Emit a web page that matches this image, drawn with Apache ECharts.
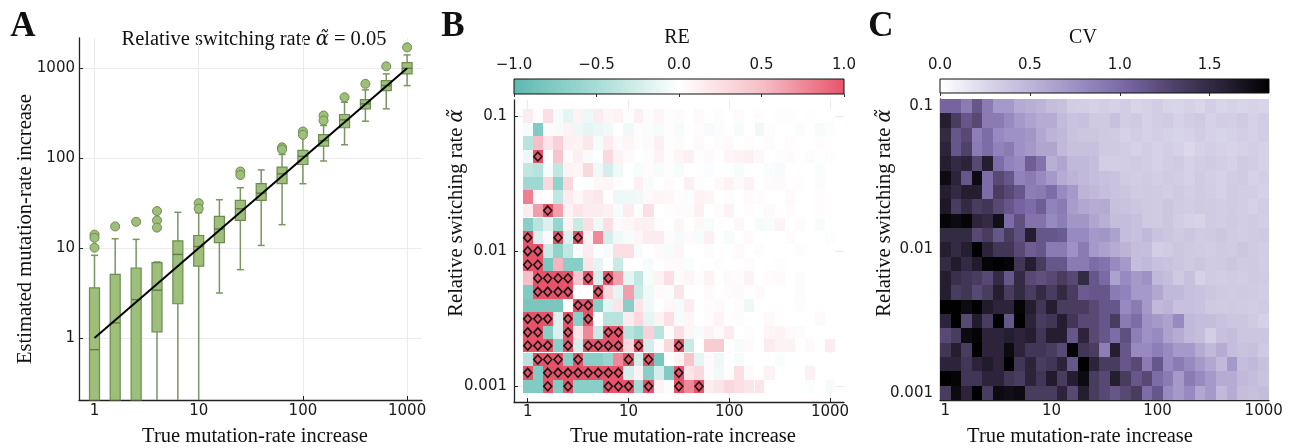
<!DOCTYPE html>
<html>
<head>
<meta charset="utf-8">
<script src="https://cdn.jsdelivr.net/npm/echarts@6.0.0/dist/echarts.min.js"></script>
<style>
html, body { margin: 0; padding: 0; background: #fff; }
#main { width: 1298px; height: 448px; }
</style>
</head>
<body>
<div id="main"></div>
<script>
// ---- panel A: estimated vs true mutation-rate increase (alpha = 0.05) ----
const trueRates   = [1, 1.58, 2.51, 3.98, 6.31, 10, 15.8, 25.1, 39.8, 63.1, 100, 158, 251, 398, 631, 1000];
const whiskerLow  = [0.05, 0.05, 0.05, 0.05, 0.05, 0.05, 3.16, 5.75, 10.7, 18.2, 52, 93, 141, 258, 354, 642];
const boxQ1       = [0.05, 0.05, 0.05, 1.17, 2.4, 6.3, 11.5, 20.3, 33.9, 52, 85, 136, 218, 354, 565, 867];
const boxMedian   = [0.74, 1.47, 2.67, 3.4, 8.5, 10.4, 16.3, 27.4, 40.8, 67, 105, 157, 267, 402, 642, 1000];
const boxQ3       = [3.6, 5.1, 6.0, 6.9, 12.0, 13.8, 22.5, 33.9, 52, 79.4, 122, 183, 306, 449, 730, 1157];
const whiskerHigh = [8.3, 12.7, 12.5, 7.0, 25, 24.7, 34.5, 46.9, 74, 110, 171, 231, 419, 575, 867, 1410];
const outliers = [
  [1, 14.1], [1, 13.0], [1, 10.1], [1.58, 17.4], [2.51, 19.6],
  [3.98, 25.8], [3.98, 20.3], [3.98, 16.9], [10, 31.6], [10, 27.4],
  [25.1, 71], [25.1, 65], [63.1, 132], [63.1, 125], [100, 198], [100, 182],
  [158, 298], [158, 262], [251, 476], [398, 671], [631, 1052], [1000, 1710]
];

// ---- panels B and C: grid of true rate (columns) x switching rate (rows, top to bottom) ----
const rateGrid = [1, 1.26, 1.58, 2, 2.51, 3.16, 3.98, 5.01, 6.31, 7.94,
  10, 12.6, 15.8, 20, 25.1, 31.6, 39.8, 50.1, 63.1, 79.4,
  100, 126, 158, 200, 251, 316, 398, 501, 631, 794, 1000];
const alphaGrid = [0.1, 0.0794, 0.0631, 0.0501, 0.0398, 0.0316, 0.0251, 0.02, 0.0158, 0.0126,
  0.01, 0.00794, 0.00631, 0.00501, 0.00398, 0.00316, 0.00251, 0.002, 0.00158, 0.00126, 0.001];

// relative error, clipped at +-1 (cells at +1 are flagged with a diamond)
const reValues = [
  [0.15,0.02,0.25,-0.05,-0.15,0.1,-0.1,0.15,0.08,0.1,0.02,0.12,0.03,0.08,0.02,0.03,0,0.05,0,0.02,0,0.03,0,0.02,0,-0.02,0.02,0,0.01,0,0],
  [-0.05,-0.75,0.05,-0.05,0.1,-0.1,-0.15,-0.12,-0.08,0,-0.08,0.02,-0.03,-0.05,0.02,-0.05,0,0.02,-0.05,-0.03,0,-0.05,0,-0.08,-0.02,0,0,-0.03,0,-0.05,-0.02],
  [-0.4,0.5,0.2,0.35,0.12,0.1,0.18,-0.05,0.15,0.05,0.08,0.02,0.05,0.12,0.02,0.03,0,0.05,0,0.02,0.04,0,0.02,0,0.03,0,0.02,0,0,0.02,0],
  [-0.1,1,0,0.45,0.05,0.12,-0.05,0,0.3,0.1,0.05,0,0.03,0.1,0.02,0.08,0.12,0.02,0.05,0,0.08,0.1,0.12,0.06,0,0.02,0.03,0,0.03,0,0.02],
  [-0.35,-0.4,-0.05,-0.35,0.1,0.08,0.3,-0.08,-0.25,-0.08,0,-0.05,0.03,-0.05,0.02,-0.05,0,0,-0.03,0,0,-0.05,0,0,-0.03,-0.05,0,0,0,-0.03,0],
  [-0.55,-0.55,0.3,-0.65,0.3,0,0,0.06,0.08,0.02,0,0.12,-0.04,0,0.03,0,0.12,0.02,0,0.05,0.1,0.05,0.1,0,0.03,0.05,0,0.02,0,0.03,0],
  [0.8,0.05,0,-0.35,0.15,0.06,0.15,0.18,0,-0.1,-0.1,-0.08,0.05,0.08,0.06,0.02,-0.03,0.1,0.08,0,0.02,0,0.05,0.03,0,0,0.05,0,0,0.02,0],
  [0.15,0.65,1,0.65,0.1,0.2,0.15,0.15,0.12,-0.05,0.15,0,0.25,0,0.02,0.03,0.03,0.12,0,0.03,0.1,0,0.02,0,0.05,0,0.03,0,0,0.02,0],
  [-0.7,-0.4,-0.2,-0.6,0.1,-0.3,0.25,-0.08,0.25,0.05,0.08,0.12,0.12,0.03,0,0.06,0,0.06,-0.05,0,0,0.06,0,-0.05,-0.04,0.1,0,0.03,0,-0.04,0],
  [1,-0.2,0.05,1,-0.2,1,0.1,0.75,-0.25,-0.08,-0.05,0.08,0.15,0.15,0.03,-0.06,0.05,-0.05,0.12,0,-0.05,0,0.05,0,0,0,0.03,0,0,0,-0.02],
  [1,1,-0.3,-0.65,-0.35,0.05,0.15,0,-0.05,0.25,0.25,-0.05,0,0.05,-0.05,0.08,0,0,0.03,0,0,0.05,0,0.02,0,0,0,0.02,0,0,0],
  [1,1,-0.8,0.55,-0.7,-0.7,0.2,-0.15,0,-0.3,0,0,-0.05,0,0.05,0.05,-0.03,0,0,0.02,0,0,0.03,0,0,-0.02,0,0,0,0,0],
  [0.5,1,1,1,1,0.45,1,-0.25,1,0.65,-0.15,-0.35,-0.05,0.1,0.25,0.03,0.08,0.02,0.1,0,0.05,0.03,0.1,0,0.03,0.05,0,0.03,0,0,0],
  [-0.75,1,1,1,1,0,0,1,0.3,-0.15,0.65,-0.3,-0.08,0.05,-0.03,0.2,0,0,0.05,0,0.03,0.05,0,0.05,0,0,0,0.03,0,0,0],
  [-0.8,-0.8,-0.8,-0.8,0,1,1,-0.7,-0.15,0.2,-0.7,0.2,-0.08,0,0.06,-0.05,0.15,0,0.03,0.05,0,0.03,-0.1,0,0,0,0,0.02,0,0,0],
  [1,1,1,-0.2,1,-0.7,1,0,-0.4,-0.4,0.15,0.3,-0.15,0.1,0.25,-0.05,0.08,0,0.03,0.1,0.02,0.03,0,0,0.05,0,0,0,0,0.05,0],
  [1,1,-0.7,-0.2,1,0.2,0.75,-0.3,1,1,-0.4,-0.5,0.35,-0.4,0.03,0.25,0.08,-0.05,0.1,0.05,0.15,0,0.02,0,0.08,0.1,0.05,0.03,0,0,0],
  [1,1,1,-0.7,1,-0.25,1,1,1,1,0.3,1,-0.25,0.05,0.3,1,-0.3,0,0.4,0.4,0,-0.05,0.05,0,0.15,0.1,0.1,0,0.05,0,0.15],
  [-0.4,1,1,1,-0.7,1,-0.7,-0.7,-0.6,0.75,1,-0.25,1,-0.8,0,0.1,0.45,-0.15,0.05,-0.1,0,-0.05,0,0,0,-0.03,0,0,0,0,0],
  [1,-0.75,1,1,1,1,1,1,1,1,-0.25,0.1,-0.7,-0.25,-0.75,1,0.2,0.3,0.05,-0.08,0.02,0.25,0.05,0,0.1,0,0,0,0.12,0,0],
  [-0.75,-0.75,1,-0.75,1,-0.7,-0.7,-0.7,1,1,1,-0.5,1,0.1,-0.03,1,0.75,1,0.15,0.2,0.3,0.25,0.2,0.2,0,0,0,0,-0.03,0,-0.05]
];

// coefficient of variation
const cvValues = [
  [1.05,1.05,0.9,1.15,0.9,0.7,0.7,0.58,0.55,0.52,0.45,0.42,0.33,0.32,0.3,0.32,0.3,0.33,0.27,0.3,0.33,0.28,0.27,0.3,0.26,0.32,0.27,0.3,0.27,0.29,0.27],
  [1.6,1.35,1.15,1.25,0.9,0.9,0.8,0.7,0.63,0.57,0.57,0.46,0.4,0.42,0.36,0.36,0.42,0.33,0.36,0.3,0.33,0.35,0.3,0.33,0.35,0.3,0.33,0.32,0.35,0.3,0.33],
  [1.5,1.15,1.25,0.88,1.0,0.8,0.75,0.75,0.72,0.6,0.52,0.48,0.4,0.38,0.38,0.36,0.35,0.3,0.33,0.3,0.32,0.3,0.28,0.3,0.33,0.3,0.28,0.3,0.32,0.3,0.33],
  [1.55,1.15,1.3,0.9,1.0,0.85,0.9,0.75,0.7,0.62,0.62,0.48,0.42,0.42,0.42,0.36,0.36,0.33,0.3,0.33,0.3,0.32,0.3,0.25,0.3,0.32,0.3,0.28,0.3,0.32,0.3],
  [1.6,1.5,1.55,1.25,1.6,1.0,0.85,0.8,1.1,0.95,0.55,0.62,0.48,0.48,0.45,0.32,0.32,0.33,0.35,0.33,0.3,0.33,0.35,0.3,0.33,0.35,0.32,0.3,0.35,0.33,0.3],
  [1.75,1.55,1.15,1.75,1.0,1.25,1.15,0.85,0.9,0.8,0.7,0.57,0.52,0.48,0.45,0.42,0.4,0.35,0.33,0.35,0.32,0.35,0.33,0.3,0.35,0.32,0.3,0.33,0.35,0.3,0.32],
  [1.6,1.5,1.6,1.6,1.0,1.35,1.25,1.15,0.88,0.9,1.0,0.8,0.7,0.52,0.48,0.44,0.4,0.38,0.35,0.36,0.35,0.33,0.36,0.32,0.35,0.33,0.3,0.35,0.33,0.32,0.3],
  [1.65,1.35,1.5,1.35,1.4,1.25,1.15,1.05,1.0,1.1,0.85,0.9,0.68,0.6,0.57,0.58,0.42,0.4,0.38,0.36,0.35,0.38,0.35,0.33,0.36,0.35,0.33,0.35,0.33,0.3,0.33],
  [1.8,1.75,1.8,1.55,1.5,1.72,1.0,1.2,0.95,0.95,0.8,0.88,0.72,0.72,0.62,0.55,0.45,0.45,0.42,0.36,0.35,0.38,0.33,0.3,0.28,0.35,0.33,0.36,0.33,0.35,0.32],
  [1.5,1.5,1.5,1.25,1.35,1.15,1.35,1.2,1.6,1.15,1.15,1.12,0.8,0.8,0.7,0.72,0.64,0.45,0.42,0.48,0.4,0.38,0.36,0.38,0.35,0.36,0.38,0.35,0.33,0.35,0.36],
  [1.6,1.5,1.6,1.85,1.55,1.4,1.4,1.25,1.1,1.15,0.9,0.9,0.75,0.9,0.7,0.64,0.57,0.52,0.45,0.44,0.32,0.35,0.38,0.36,0.35,0.33,0.36,0.35,0.38,0.35,0.33],
  [1.5,1.62,1.5,1.62,1.8,1.85,1.8,1.4,1.6,1.35,1.15,1.15,0.9,0.9,1.0,0.95,0.8,0.7,0.45,0.48,0.42,0.4,0.38,0.36,0.38,0.35,0.36,0.38,0.35,0.36,0.33],
  [1.6,1.45,1.4,1.35,1.25,1.5,1.15,1.5,1.25,1.2,1.25,1.35,1.25,1.5,1.15,1.02,0.64,0.8,0.7,0.75,0.48,0.45,0.36,0.42,0.3,0.35,0.33,0.35,0.33,0.36,0.35],
  [1.6,1.35,1.4,1.25,1.35,1.6,1.35,1.5,1.35,1.5,1.35,1.5,1.35,1.12,1.15,1.15,0.9,0.85,0.7,0.7,0.6,0.48,0.48,0.42,0.4,0.38,0.36,0.35,0.36,0.35,0.33],
  [1.85,1.85,1.75,1.85,1.62,1.55,1.55,1.8,1.6,1.4,1.6,1.35,1.35,1.35,1.25,1.15,1.15,0.8,0.9,0.7,0.48,0.52,0.42,0.42,0.4,0.36,0.35,0.36,0.35,0.33,0.35],
  [1.55,1.85,1.25,1.62,1.35,1.85,1.15,1.85,1.55,1.35,1.4,1.6,1.4,1.25,1.25,1.15,1.35,0.9,1.0,0.75,0.7,0.64,0.8,0.48,0.45,0.45,0.4,0.38,0.38,0.35,0.3],
  [1.25,1.35,1.75,1.8,1.55,1.55,1.6,1.55,1.6,1.4,1.6,1.6,1.15,1.55,1.25,1.15,1.0,1.2,0.88,0.75,0.8,0.64,0.57,0.48,0.45,0.32,0.42,0.45,0.38,0.38,0.38],
  [1.4,1.6,1.35,1.85,1.55,1.55,1.75,1.55,1.4,1.4,1.35,1.25,1.8,1.4,1.35,0.88,1.6,1.15,0.8,0.8,0.88,0.8,0.7,0.7,0.57,0.48,0.57,0.45,0.4,0.42,0.36],
  [1.55,1.55,1.4,1.55,1.62,1.55,1.85,1.4,1.55,1.35,1.4,1.55,1.15,1.85,1.55,1.35,1.35,1.15,1.25,0.9,1.15,0.8,0.9,0.8,0.7,0.6,0.48,0.7,0.45,0.48,0.42],
  [1.85,1.8,1.4,1.4,1.55,1.55,1.4,1.35,1.55,1.4,1.62,1.35,1.6,1.75,1.35,1.25,1.6,1.35,1.15,1.25,1.0,0.9,0.7,0.9,0.8,0.7,0.57,0.57,0.48,0.45,0.4],
  [1.35,1.75,1.55,1.85,1.35,1.75,1.72,1.75,1.35,1.35,1.35,1.55,1.25,1.6,1.35,1.25,1.15,1.25,1.35,1.0,1.15,0.8,0.7,0.8,0.6,0.7,0.48,0.57,0.45,0.42,0.45]
];

// tick values and labels
const rateTicks = [1, 10, 100, 1000];
const rateTickLabels = ['1', '10', '100', '1000'];
const alphaTicks = [0.001, 0.01, 0.1];
const alphaTickLabels = ['0.001', '0.01', '0.1'];
const reBarRange = [-1, 1];
const reBarTicks = [-1, -0.5, 0, 0.5, 1];
const reBarLabels = ['\u22121.0', '\u22120.5', '0.0', '0.5', '1.0'];
const cvBarRange = [0, 1.83];
const cvBarTicks = [0, 0.5, 1, 1.5];
const cvBarLabels = ['0.0', '0.5', '1.0', '1.5'];

// colour maps
const reColors = ['#5db9b1', '#a7dcd6', '#ffffff', '#f6bfc8', '#e8536a'];
const cvColors = ['#ffffff', '#dad6e9', '#bcb3d7', '#998cc2', '#7665a1', '#4e4167', '#2a2238', '#000000'];

const SERIF = '"Liberation Serif", "DejaVu Serif", serif';
const SANS = '"DejaVu Sans", "Liberation Sans", sans-serif';
const lg = Math.log10;
const cellHalf = 0.05;   // half a cell in decades
const boxHalf = 0.048;   // half a box width in decades

var chart = echarts.init(document.getElementById('main'));

function nearestLabel(values, labels) {
    return function (v) {
        let best = 0;
        for (let i = 1; i < values.length; i++) {
            if (Math.abs(values[i] - v) < Math.abs(values[best] - v)) best = i;
        }
        return labels[best];
    };
}

// value axis on log10 values, ticks only at the given values
function logAxis(gridIndex, lo, hi, ticks, labels, margin) {
    const tv = ticks.map(lg);
    return {
        type: 'value', gridIndex: gridIndex, min: lg(lo), max: lg(hi),
        axisLine: { show: true, onZero: false, lineStyle: { color: '#222', width: 1.3 } },
        axisTick: { show: true, inside: true, length: 4, customValues: tv, lineStyle: { color: '#222' } },
        axisLabel: { customValues: tv, margin: margin, color: '#1a1a1a', fontFamily: SANS, fontSize: 15,
            formatter: nearestLabel(tv, labels) },
        splitLine: { show: true, lineStyle: { color: '#ebebeb' } }
    };
}

function barAxis(gridIndex, range, ticks, labels, margin) {
    return {
        type: 'value', gridIndex: gridIndex, position: 'top', min: range[0], max: range[1],
        axisLine: { show: false },
        axisTick: { show: true, inside: true, length: 3, customValues: ticks, lineStyle: { color: '#333' } },
        axisLabel: { customValues: ticks, margin: margin, color: '#1a1a1a', fontFamily: SANS, fontSize: 15,
            formatter: nearestLabel(ticks, labels) },
        splitLine: { show: false }
    };
}

function hiddenAxis(gridIndex) {
    return { type: 'value', gridIndex: gridIndex, min: 0, max: 1, show: false };
}

function cellData(values) {
    const out = [];
    values.forEach(function (row, r) {
        row.forEach(function (v, c) {
            out.push([lg(rateGrid[c]), lg(alphaGrid[r]), v]);
        });
    });
    return out;
}

function flaggedCells(values) {
    const out = [];
    values.forEach(function (row, r) {
        row.forEach(function (v, c) {
            if (v >= 1) out.push([lg(rateGrid[c]), lg(alphaGrid[r])]);
        });
    });
    return out;
}

function renderCell(params, api) {
    const x = api.value(0), y = api.value(1);
    const a = api.coord([x - cellHalf, y + cellHalf]);
    const b = api.coord([x + cellHalf, y - cellHalf]);
    const x0 = Math.round(a[0]), y0 = Math.round(a[1]);
    return {
        type: 'rect',
        shape: { x: x0, y: y0, width: Math.round(b[0]) - x0, height: Math.round(b[1]) - y0 },
        style: { fill: api.visual('color') }
    };
}

function renderBar(colors) {
    const stops = colors.map(function (c, i) { return { offset: i / (colors.length - 1), color: c }; });
    return function (params, api) {
        const a = api.coord([api.value(0), 1]);
        const b = api.coord([api.value(1), 0]);
        return {
            type: 'rect',
            shape: { x: a[0], y: a[1], width: b[0] - a[0], height: b[1] - a[1] },
            style: { fill: new echarts.graphic.LinearGradient(0, 0, 1, 0, stops), stroke: '#111', lineWidth: 1 }
        };
    };
}

const boxFill = '#9dbf79';
const boxEdge = '#6d8b50';

function renderBox(params, api) {
    const cs = params.coordSys;
    const clampY = function (y) { return Math.min(Math.max(y, cs.y), cs.y + cs.height); };
    const x = api.value(0);
    const cx = api.coord([x, 0])[0];
    const xl = api.coord([x - boxHalf, 0])[0];
    const xr = api.coord([x + boxHalf, 0])[0];
    const yOf = function (i) { return api.coord([x, api.value(i)])[1]; };
    const yLow = yOf(1), yQ1 = yOf(2), yMed = yOf(3), yQ3 = yOf(4), yHigh = yOf(5);
    const bottom = cs.y + cs.height;
    const line = { stroke: '#7a9562', lineWidth: 1.5 };
    const children = [];
    if (yQ1 < bottom) {
        children.push({ type: 'line', shape: { x1: cx, y1: clampY(yLow), x2: cx, y2: yQ1 }, style: line });
    }
    if (yLow < bottom) {
        children.push({ type: 'line', shape: { x1: cx - 3.5, y1: yLow, x2: cx + 3.5, y2: yLow }, style: line });
    }
    children.push({ type: 'line', shape: { x1: cx, y1: yQ3, x2: cx, y2: yHigh }, style: line });
    children.push({ type: 'line', shape: { x1: cx - 3.5, y1: yHigh, x2: cx + 3.5, y2: yHigh }, style: line });
    const top = clampY(yQ3), bot = clampY(yQ1);
    children.push({ type: 'rect', shape: { x: xl, y: top, width: xr - xl, height: bot - top },
        style: { fill: boxFill, stroke: boxEdge, lineWidth: 1.2 } });
    if (yMed < bottom) {
        children.push({ type: 'line', shape: { x1: xl, y1: yMed, x2: xr, y2: yMed },
            style: { stroke: '#5f7d45', lineWidth: 1.4 } });
    }
    return { type: 'group', children: children };
}

const boxData = trueRates.map(function (r, i) {
    return [lg(r), lg(whiskerLow[i]), lg(boxQ1[i]), lg(boxMedian[i]), lg(boxQ3[i]), lg(whiskerHigh[i])];
});

function label(text, x, y, size, extra) {
    return Object.assign({
        type: 'text', x: x, y: y, silent: true,
        style: {
            text: text, fill: '#111', font: size + 'px ' + SERIF,
            align: 'center', verticalAlign: 'middle', textAlign: 'center', textVerticalAlign: 'middle',
            rich: { a: { fontStyle: 'italic', fontFamily: '"DejaVu Serif", serif', fontSize: size - 1, fill: '#111' } }
        }
    }, extra || {});
}

function letter(text, x, y) {
    return {
        type: 'text', x: x, y: y, silent: true,
        style: { text: text, font: 'bold 35px ' + SERIF, fill: '#111', align: 'center', verticalAlign: 'middle' }
    };
}

var option = {
    animation: false,
    backgroundColor: '#ffffff',
    grid: [
        { left: 79, top: 38, width: 343, height: 362, outerBoundsMode: 'none' },
        { left: 514, top: 100, width: 330, height: 302, outerBoundsMode: 'none' },
        { left: 514, top: 79, width: 330, height: 15, outerBoundsMode: 'none' },
        { left: 940, top: 99, width: 329, height: 301, outerBoundsMode: 'none' },
        { left: 940, top: 79, width: 329, height: 14, outerBoundsMode: 'none' }
    ],
    xAxis: [
        logAxis(0, 0.71, 1390, rateTicks, rateTickLabels, 4),
        logAxis(1, 0.731, 1377, rateTicks, rateTickLabels, 3),
        barAxis(2, reBarRange, reBarTicks, reBarLabels, 6),
        logAxis(3, 0.891, 1122, rateTicks, rateTickLabels, 4),
        barAxis(4, cvBarRange, cvBarTicks, cvBarLabels, 6)
    ],
    yAxis: [
        logAxis(0, 0.204, 2173, rateTicks, rateTickLabels, 4),
        logAxis(1, 0.000766, 0.1315, alphaTicks, alphaTickLabels, 7),
        hiddenAxis(2),
        logAxis(3, 0.000891, 0.1122, alphaTicks, alphaTickLabels, 7),
        hiddenAxis(4)
    ],
    visualMap: [
        { type: 'continuous', show: false, seriesIndex: 3, dimension: 2, min: -1, max: 1, inRange: { color: reColors } },
        { type: 'continuous', show: false, seriesIndex: 6, dimension: 2, min: cvBarRange[0], max: cvBarRange[1], inRange: { color: cvColors } }
    ],
    series: [
        { type: 'custom', xAxisIndex: 0, yAxisIndex: 0, renderItem: renderBox, data: boxData, z: 2,
          encode: { x: 0, y: [1, 2, 3, 4, 5] } },
        { type: 'line', xAxisIndex: 0, yAxisIndex: 0, data: [[lg(1), lg(1)], [lg(1000), lg(1000)]],
          showSymbol: false, lineStyle: { color: '#000', width: 2 }, z: 4 },
        { type: 'scatter', xAxisIndex: 0, yAxisIndex: 0, symbol: 'circle', symbolSize: 9,
          data: outliers.map(function (p) { return [lg(p[0]), lg(p[1])]; }),
          itemStyle: { color: boxFill, borderColor: boxEdge, borderWidth: 1, opacity: 1 }, z: 3 },
        { type: 'custom', xAxisIndex: 1, yAxisIndex: 1, renderItem: renderCell, data: cellData(reValues), z: 2 },
        { type: 'scatter', xAxisIndex: 1, yAxisIndex: 1, symbol: 'diamond', symbolSize: [8, 9],
          data: flaggedCells(reValues),
          itemStyle: { color: 'rgba(0,0,0,0)', borderColor: '#151515', borderWidth: 1.6, opacity: 1 }, z: 3 },
        { type: 'custom', xAxisIndex: 2, yAxisIndex: 2, renderItem: renderBar(reColors), data: [reBarRange], z: 2 },
        { type: 'custom', xAxisIndex: 3, yAxisIndex: 3, renderItem: renderCell, data: cellData(cvValues), z: 2 },
        { type: 'custom', xAxisIndex: 4, yAxisIndex: 4, renderItem: renderBar(cvColors), data: [cvBarRange], z: 2 }
    ],
    graphic: [
        letter('A', 23, 27),
        letter('B', 453, 27),
        letter('C', 881, 27),
        label('Relative switching rate {a|\u03b1\u0303} = 0.05', 254, 40, 20.5),
        label('RE', 677, 38, 20),
        label('CV', 1083, 38, 20),
        label('True mutation-rate increase', 255, 437, 20.5),
        label('True mutation-rate increase', 683, 437, 20.5),
        label('True mutation-rate increase', 1080, 437, 20.5),
        label('Estimated mutation-rate increase', 26, 229, 20.5, { rotation: Math.PI / 2 }),
        label('Relative switching rate {a|\u03b1\u0303}', 457, 213, 20.5, { rotation: Math.PI / 2 }),
        label('Relative switching rate {a|\u03b1\u0303}', 885, 213, 20.5, { rotation: Math.PI / 2 })
    ]
};

chart.setOption(option);
</script>
</body>
</html>
